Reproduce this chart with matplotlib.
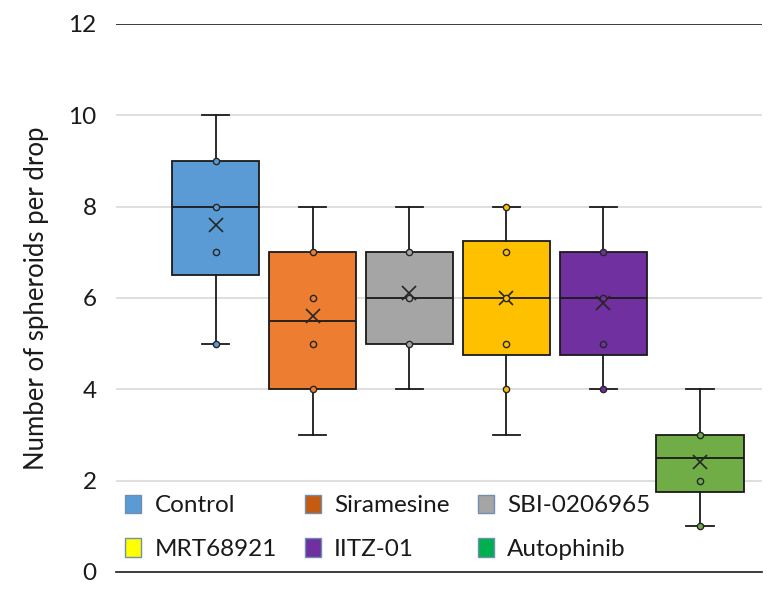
import matplotlib.pyplot as plt
from matplotlib.patches import Patch

plt.rcParams['font.family'] = ['Lato', 'DejaVu Sans']

groups = ['Control', 'Siramesine', 'SBI-0206965', 'MRT68921', 'IITZ-01', 'Autophinib']
q1 = [6.5, 4.0, 5.0, 4.75, 4.75, 1.75]
med = [8.0, 5.5, 6.0, 6.0, 6.0, 2.5]
q3 = [9.0, 7.0, 7.0, 7.25, 7.0, 3.0]
whislo = [5, 3, 4, 3, 4, 1]
whishi = [10, 8, 8, 8, 8, 4]
means = [7.6, 5.6, 6.1, 6.0, 5.9, 2.4]
points = [[9, 8, 7, 5], [7, 6, 5, 4], [7, 6, 5], [8, 7, 6, 5, 4], [7, 6, 5, 4], [3, 2, 1]]

box_colors = ['#5b9bd5', '#ed7d31', '#a5a5a5', '#ffc000', '#7030a0', '#70ad47']
legend_colors = ['#5b9bd5', '#c55a11', '#a5a5a5', '#ffff00', '#7030a0', '#00b050']

fig = plt.figure(figsize=(7.79, 5.93), dpi=100)
ax = fig.add_axes([116 / 779, 21 / 593, 646 / 779, 548 / 593])

stats = []
for i in range(len(groups)):
    stats.append(dict(med=med[i], q1=q1[i], q3=q3[i], whislo=whislo[i],
                      whishi=whishi[i], mean=means[i], fliers=[]))

bp = ax.bxp(stats, positions=range(len(groups)), widths=0.9, patch_artist=True,
            showmeans=True, showfliers=False,
            boxprops=dict(edgecolor='#1a1a1a', linewidth=1.3),
            medianprops=dict(color='#1a1a1a', linewidth=1.3),
            whiskerprops=dict(color='#1a1a1a', linewidth=1.3),
            capprops=dict(color='#1a1a1a', linewidth=1.3),
            meanprops=dict(marker='x', markeredgecolor='#262626', markersize=10,
                           markeredgewidth=1.2),
            capwidths=0.28, zorder=3)
for patch, c in zip(bp['boxes'], box_colors):
    patch.set_facecolor(c)

for i, pts in enumerate(points):
    ax.plot([i] * len(pts), pts, 'o', markersize=4.5, markerfacecolor=box_colors[i],
            markeredgecolor='#262626', markeredgewidth=1.0, zorder=4, linestyle='none')

ax.set_ylim(0, 12)
ax.set_xlim(-1.03, 5.64)
ax.set_yticks(range(0, 13, 2))
ax.tick_params(axis='y', length=0, labelsize=17.5, pad=14, labelcolor='#1a1a1a')
ax.set_xticks([])
for y in range(2, 12, 2):
    ax.axhline(y, color='#d9d9d9', linewidth=1.2, zorder=1)
ax.axhline(12, color='#1a1a1a', linewidth=1.2, zorder=1)
for s in ['top', 'right', 'left']:
    ax.spines[s].set_visible(False)
ax.spines['bottom'].set_color('#1a1a1a')
ax.spines['bottom'].set_linewidth(1.2)
ax.set_ylabel('Number of spheroids per drop', fontsize=18.5, color='#1a1a1a', labelpad=14)

# legend filled row by row like the original
order = [0, 3, 1, 4, 2, 5]
handles = [Patch(facecolor=legend_colors[k], edgecolor='#6f8fae', linewidth=1.0) for k in order]
labels = [groups[k] for k in order]
ax.legend(handles, labels, ncol=3, loc='lower left', bbox_to_anchor=(9 / 646, 12 / 548),
          frameon=False, fontsize=17.5, handlelength=0.66, handleheight=0.8,
          handletextpad=0.55, columnspacing=1.15, labelspacing=0.9, borderaxespad=0,
          borderpad=0, labelcolor='#1a1a1a')

fig.savefig('out.png', dpi=100)
